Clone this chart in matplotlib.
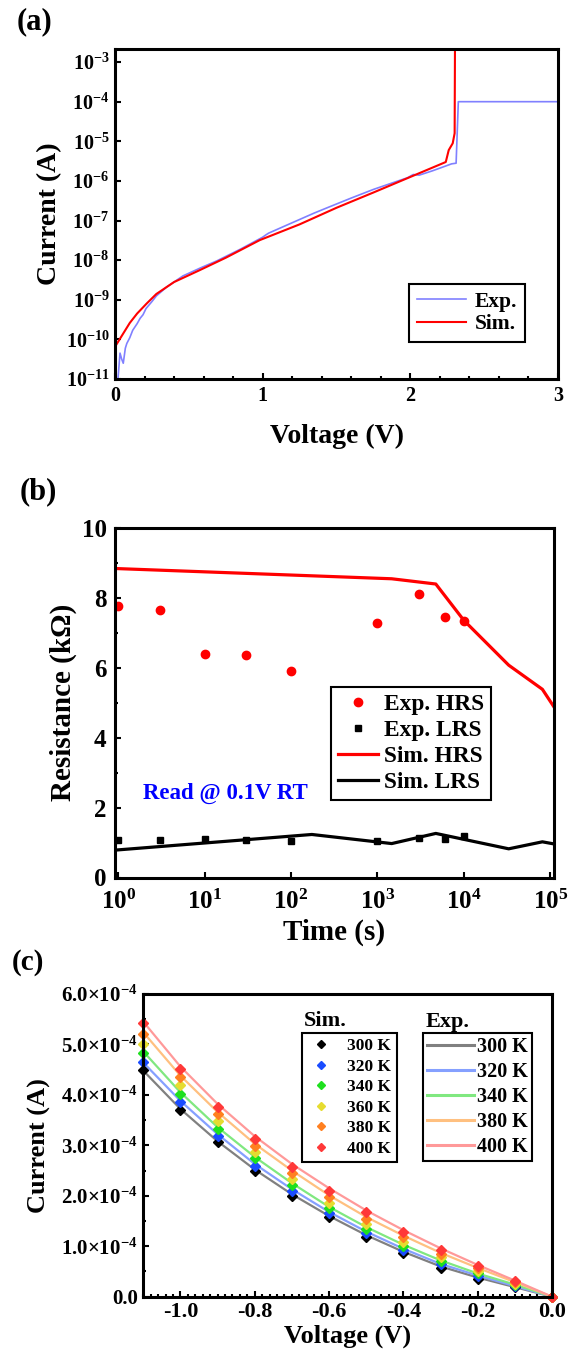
import numpy as np
import matplotlib
matplotlib.use('Agg')
import matplotlib.pyplot as plt
from matplotlib.ticker import (FixedLocator, MultipleLocator, FuncFormatter,
                               LogLocator, NullLocator, NullFormatter)
from matplotlib.lines import Line2D

plt.rcParams['font.family'] = ['Liberation Serif', 'DejaVu Serif']
plt.rcParams['font.weight'] = 'bold'
plt.rcParams['mathtext.fontset'] = 'custom'
plt.rcParams['mathtext.rm'] = 'Liberation Serif:bold'
plt.rcParams['mathtext.bf'] = 'Liberation Serif:bold'
plt.rcParams['mathtext.it'] = 'Liberation Serif:bold:italic'
plt.rcParams['axes.unicode_minus'] = False

# ---------------- data (a) ----------------
a_exp_v = [0.0, 0.02, 0.034, 0.045, 0.056, 0.07, 0.08, 0.10, 0.12, 0.15, 0.17, 0.19,
           0.21, 0.25, 0.28, 0.35, 0.46, 0.58, 0.69, 0.85, 1.00, 1.02, 1.04, 1.20,
           1.35, 1.45, 1.60, 1.75, 1.90, 1.98, 2.02, 2.06, 2.15, 2.28, 2.31, 2.325, 3.0]
a_exp_i = [1e-12, 1e-11, 4.5e-11, 3.2e-11, 2.5e-11, 6e-11, 7.9e-11, 1.1e-10, 1.7e-10,
           2.5e-10, 3.4e-10, 4.2e-10, 6e-10, 9e-10, 1.25e-9, 2.1e-9, 4.0e-9, 6.4e-9, 9.6e-9,
           1.9e-8, 3.8e-8, 4.3e-8, 4.8e-8, 8.8e-8, 1.55e-7, 2.2e-7, 3.7e-7, 6.1e-7, 9.5e-7,
           1.2e-6, 1.45e-6, 1.4e-6, 1.8e-6, 2.7e-6, 2.8e-6, 1e-4, 1e-4]
a_sim_v = [0.0, 0.05, 0.10, 0.15, 0.214, 0.28, 0.40, 0.574, 0.75, 0.98, 1.25, 1.50,
           1.75, 2.00, 2.24, 2.26, 2.287, 2.30, 2.303]
a_sim_i = [6.5e-11, 1.3e-10, 2.6e-10, 4.5e-10, 8e-10, 1.4e-9, 2.8e-9, 5.6e-9, 1.15e-8,
           3.2e-8, 8e-8, 2.1e-7, 5.1e-7, 1.26e-6, 3e-6, 6e-6, 8.9e-6, 1.6e-5, 1e-2]

# ---------------- data (b) ----------------
b_exp_t = [1, 3, 10, 30, 100, 1000, 3000, 6000, 10000]
b_exp_hrs = [7.77, 7.66, 6.39, 6.35, 5.91, 7.28, 8.11, 7.45, 7.34]
b_exp_lrs = [1.07, 1.07, 1.09, 1.06, 1.05, 1.05, 1.12, 1.10, 1.19]
b_sim_hrs_t = [1, 1460, 4730, 10000, 33000, 81000, 110000]
b_sim_hrs = [8.83, 8.54, 8.39, 7.35, 6.07, 5.38, 4.88]
b_sim_lrs_t = [1, 174, 1460, 4730, 33000, 81000, 110000]
b_sim_lrs = [0.79, 1.23, 0.97, 1.26, 0.82, 1.02, 0.96]

# ---------------- data (c) (units of 1e-4 A) ----------------
c_v = [-1.1, -1.0, -0.9, -0.8, -0.7, -0.6, -0.5, -0.4, -0.3, -0.2, -0.1, 0.0]
c_temps_sim = ['300 K', '320 K', '340 K', '360 K', '380 K', '400 K']
c_sim_300 = [4.49, 3.70, 3.06, 2.49, 2.00, 1.57, 1.18, 0.86, 0.575, 0.36, 0.185, 0]
c_sim_320 = [4.66, 3.86, 3.19, 2.60, 2.10, 1.65, 1.26, 0.93, 0.64, 0.41, 0.21, 0]
c_sim_340 = [4.84, 4.02, 3.32, 2.74, 2.21, 1.75, 1.35, 1.00, 0.71, 0.46, 0.24, 0]
c_sim_360 = [5.01, 4.19, 3.48, 2.87, 2.34, 1.85, 1.45, 1.08, 0.78, 0.51, 0.26, 0]
c_sim_380 = [5.21, 4.35, 3.62, 2.99, 2.46, 1.97, 1.55, 1.18, 0.85, 0.56, 0.29, 0]
c_sim_400 = [5.42, 4.51, 3.77, 3.13, 2.58, 2.10, 1.67, 1.28, 0.93, 0.61, 0.32, 0]
c_temps_exp = ['300 K', '320 K', '340 K', '380 K', '400 K']
c_exp_300 = [4.48, 3.72, 3.08, 2.52, 2.03, 1.60, 1.22, 0.89, 0.60, 0.38, 0.19, 0]
c_exp_320 = [4.64, 3.88, 3.22, 2.63, 2.13, 1.68, 1.29, 0.95, 0.65, 0.42, 0.21, 0]
c_exp_340 = [4.86, 4.05, 3.36, 2.77, 2.25, 1.78, 1.38, 1.03, 0.72, 0.46, 0.24, 0]
c_exp_380 = [5.24, 4.38, 3.66, 3.03, 2.50, 2.01, 1.58, 1.21, 0.87, 0.57, 0.29, 0]
c_exp_400 = [5.45, 4.56, 3.82, 3.18, 2.63, 2.15, 1.71, 1.32, 0.96, 0.63, 0.32, 0]

W, H = 572, 1349
fig = plt.figure(figsize=(W / 100, H / 100), dpi=100)


def axes_px(l, t, r, b):
    return fig.add_axes([l / W, 1 - b / H, (r - l) / W, (b - t) / H])


def fpt(x, y):
    return (x / W, 1 - y / H)


def style_axes(ax):
    for s in ax.spines.values():
        s.set_linewidth(2.2)
    ax.tick_params(which='both', direction='in', top=False, right=False, width=1.5)
    ax.tick_params(which='major', length=4.5)
    ax.tick_params(which='minor', length=2.5)


# ================= (a) =================
ax = axes_px(115, 49, 558, 379)
ax.plot(a_exp_v, a_exp_i, color='#8080ff', lw=1.2, label='Exp.')
ax.plot(a_sim_v, a_sim_i, color='#ff0000', lw=1.5, label='Sim.')
ax.set_yscale('log')
ax.set_xlim(0, 3)
ax.set_ylim(1e-11, 10 ** -2.67)
ax.yaxis.set_major_locator(FixedLocator([10.0 ** k for k in range(-11, -2)]))
ax.yaxis.set_minor_locator(NullLocator())
ax.yaxis.set_major_formatter(FuncFormatter(lambda v, p: r'$\mathbf{10^{%d}}$' % round(np.log10(v))))
ax.xaxis.set_major_locator(MultipleLocator(1))
ax.xaxis.set_minor_locator(MultipleLocator(0.2))
ax.xaxis.set_major_formatter(FuncFormatter(lambda v, p: '%d' % round(v)))
style_axes(ax)
ax.tick_params(axis='y', labelsize=14.5, pad=4)
ax.tick_params(axis='x', labelsize=14.5, pad=5)
ax.set_xlabel('Voltage (V)', fontsize=20, fontweight='bold')
ax.set_ylabel('Current (A)', fontsize=20, fontweight='bold')
ax.xaxis.set_label_coords(0.5, -0.135)
ax.yaxis.set_label_coords(-0.12, 0.5)
leg = ax.legend(loc='upper left', bbox_to_anchor=fpt(409, 284), bbox_transform=fig.transFigure,
                borderaxespad=0, fontsize=15.5, frameon=True, fancybox=False, framealpha=1,
                edgecolor='black', handlelength=2.3, handletextpad=0.4, labelspacing=0.12,
                borderpad=0.35)
leg.get_frame().set_linewidth(1.5)
fig.text(*fpt(35, 22), '(a)', fontsize=22, fontweight='bold', ha='center', va='center')

# ================= (b) =================
ax = axes_px(115, 527.7, 553.7, 877.5)
ax.plot(b_exp_t, b_exp_hrs, 'o', color='#ff0000', ms=6, label='Exp. HRS')
ax.plot(b_exp_t, b_exp_lrs, 's', color='black', ms=5, label='Exp. LRS')
ax.plot(b_sim_hrs_t, b_sim_hrs, '-', color='#ff0000', lw=2.3, label='Sim. HRS')
ax.plot(b_sim_lrs_t, b_sim_lrs, '-', color='black', lw=2.3, label='Sim. LRS')
ax.set_xscale('log')
ax.set_xlim(0.916, 1.095e5)
ax.set_ylim(0, 10)
ax.xaxis.set_major_locator(FixedLocator([10.0 ** k for k in range(0, 6)]))
ax.xaxis.set_minor_locator(LogLocator(base=10, subs=np.arange(2, 10)))
ax.xaxis.set_minor_formatter(NullFormatter())
ax.xaxis.set_major_formatter(FuncFormatter(lambda v, p: r'$\mathbf{10^{%d}}$' % round(np.log10(v))))
ax.yaxis.set_major_locator(MultipleLocator(2))
ax.yaxis.set_minor_locator(MultipleLocator(1))
ax.yaxis.set_major_formatter(FuncFormatter(lambda v, p: '%d' % round(v)))
style_axes(ax)
ax.tick_params(axis='y', labelsize=18, pad=6)
ax.tick_params(axis='x', labelsize=18, pad=9)
ax.set_xlabel('Time (s)', fontsize=21, fontweight='bold')
ax.set_ylabel('Resistance (k\u03a9)', fontsize=21, fontweight='bold')
ax.xaxis.set_label_coords(0.5, -0.118)
ax.yaxis.set_label_coords(-0.087, 0.5)
ax.text(0.063, 0.241, 'Read @ 0.1V RT', transform=ax.transAxes, color='#0000ff',
        fontsize=16.5, fontweight='bold', ha='left', va='center')
leg = ax.legend(loc='upper left', bbox_to_anchor=fpt(331, 687), bbox_transform=fig.transFigure,
                borderaxespad=0, fontsize=16.8, frameon=True, fancybox=False, framealpha=1,
                edgecolor='black', handlelength=1.7, handletextpad=0.25, labelspacing=0.2,
                borderpad=0.3)
leg.get_frame().set_linewidth(1.5)
fig.text(*fpt(38, 492), '(b)', fontsize=22, fontweight='bold', ha='center', va='center')

# ================= (c) =================
ax = axes_px(143.3, 994, 552, 1296.7)
exp_colors = ['#808080', '#85a0ff', '#80e880', '#ffc080', '#ff9999']
exp_series = [c_exp_300, c_exp_320, c_exp_340, c_exp_380, c_exp_400]
sim_colors = ['#000000', '#1a4cff', '#1ee01e', '#e6dc30', '#ff8020', '#ff3838']
sim_series = [c_sim_300, c_sim_320, c_sim_340, c_sim_360, c_sim_380, c_sim_400]
exp_handles = []
for vals, col, lab in zip(exp_series, exp_colors, c_temps_exp):
    h, = ax.plot(c_v, np.array(vals) * 1e-4, '-', color=col, lw=1.6, label=lab)
    exp_handles.append(h)
sim_handles = []
for vals, col, lab in zip(sim_series, sim_colors, c_temps_sim):
    ax.plot(c_v, np.array(vals) * 1e-4, 'D', color=col, ms=5, clip_on=False)
    sim_handles.append(Line2D([], [], ls='none', marker='D', color=col, ms=4, label=lab))
ax.set_xlim(-1.1, 0)
ax.set_ylim(0, 6e-4)
ax.xaxis.set_major_locator(FixedLocator([-1.0, -0.8, -0.6, -0.4, -0.2, 0.0]))
ax.xaxis.set_minor_locator(MultipleLocator(0.02))
ax.xaxis.set_major_formatter(FuncFormatter(lambda v, p: '%.1f' % (0.0 if abs(v) < 1e-9 else v)))
ax.yaxis.set_major_locator(MultipleLocator(1e-4))
ax.yaxis.set_minor_locator(MultipleLocator(0.5e-4))


def cfmt(v, p):
    if abs(v) < 1e-12:
        return '0.0'
    return r'$\mathbf{%.1f{\times}10^{-4}}$' % (v * 1e4)


ax.yaxis.set_major_formatter(FuncFormatter(cfmt))
style_axes(ax)
ax.tick_params(axis='x', labelsize=16, pad=4)
ax.tick_params(axis='y', labelsize=15, pad=4)
ax.set_xlabel('Voltage (V)', fontsize=19, fontweight='bold')
ax.set_ylabel('Current (A)', fontsize=19, fontweight='bold')
ax.xaxis.set_label_coords(0.5, -0.0935)
ax.yaxis.set_label_coords(-0.226, 0.5)

leg1 = ax.legend(handles=sim_handles, loc='upper left', bbox_to_anchor=fpt(302.3, 1033),
                 bbox_transform=fig.transFigure, borderaxespad=0, fontsize=12.5,
                 frameon=True, fancybox=False, framealpha=1, edgecolor='black',
                 handlelength=1.5, handletextpad=0.8, labelspacing=0.25, borderpad=0.3)
leg1.get_frame().set_linewidth(1.5)
ax.add_artist(leg1)
leg2 = ax.legend(handles=exp_handles, loc='upper left', bbox_to_anchor=fpt(423.3, 1033),
                 bbox_transform=fig.transFigure, borderaxespad=0, fontsize=14.5,
                 frameon=True, fancybox=False, framealpha=1, edgecolor='black',
                 handlelength=2.3, handletextpad=0.16, labelspacing=0.25, borderpad=0.2)
leg2.get_frame().set_linewidth(1.5)
for ln in leg2.get_lines():
    ln.set_linewidth(2.2)
fig.text(*fpt(304, 1020.7), 'Sim.', fontsize=16, fontweight='bold', ha='left', va='center')
fig.text(*fpt(426, 1021.7), 'Exp.', fontsize=16, fontweight='bold', ha='left', va='center')
fig.text(*fpt(28, 962), '(c)', fontsize=21, fontweight='bold', ha='center', va='center')

fig.savefig('out.png', dpi=100)
